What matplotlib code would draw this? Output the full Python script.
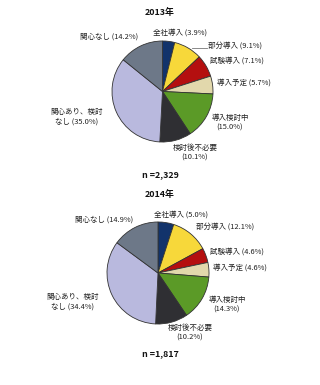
import matplotlib
matplotlib.use("Agg")
import matplotlib.pyplot as plt

plt.rcParams['font.family'] = ['Noto Sans CJK JP', 'DejaVu Sans']

categories = ["全社導入", "部分導入", "試験導入", "導入予定", "導入検討中",
              "検討後不必要", "関心あり、検討なし", "関心なし"]
values_2013 = [3.9, 9.1, 7.1, 5.7, 15.0, 10.1, 35.0, 14.2]
values_2014 = [5.0, 12.1, 4.6, 4.6, 14.3, 10.2, 34.4, 14.9]
colors = ["#12336b", "#f7d83a", "#b40f0f", "#e2d8ac", "#5b9a27",
          "#2f2f33", "#b9b9de", "#6d7888"]
titles = ["2013年", "2014年"]
n_labels = ["n =2,329", "n =1,817"]

W, H = 320, 385
fig = plt.figure(figsize=(W / 100, H / 100), dpi=100)
fig.patch.set_facecolor("white")

def px(x, y):
    return x / W, 1 - y / H

def label_text(cat, v, twoline_mode):
    s = f"({v:.1f}%)"
    if twoline_mode == "split":
        return f"関心あり、検討\nなし {s}"
    if twoline_mode == "two":
        return f"{cat}\n{s}"
    return f"{cat} {s}"

# pie geometry in pixels: center x, center y, radius
pies = [(162.5, 91.5, 50.5), (158.0, 273.0, 51.0)]
# label positions (pixel) and alignment per chart
label_pos = [
    [(153, 33, "left", "one"), (208, 46, "left", "one"), (210, 61, "left", "one"),
     (217, 83, "left", "one"), (230, 123, "center", "two"), (195, 153, "center", "two"),
     (77, 117, "center", "split"), (80, 37, "left", "one")],
    [(154, 215, "left", "one"), (196, 227, "left", "one"), (210, 252, "left", "one"),
     (213, 268, "left", "one"), (227, 305, "center", "two"), (190, 333, "center", "two"),
     (73, 302, "center", "split"), (75, 220, "left", "one")],
]
title_y = [12, 194]
n_y = [175, 354]

for i, vals in enumerate([values_2013, values_2014]):
    cx, cy, r = pies[i]
    ax = fig.add_axes([(cx - r) / W, (H - cy - r) / H, 2 * r / W, 2 * r / H])
    ax.pie(vals, colors=colors, startangle=90, counterclock=False,
           wedgeprops=dict(edgecolor="#333333", linewidth=0.6))
    ax.set_xlim(-1.0, 1.0)
    ax.set_ylim(-1.0, 1.0)
    ax.set_aspect("equal")
    ax.axis("off")
    for cat, v, (x, y, ha, mode) in zip(categories, vals, label_pos[i]):
        fig.text(*px(x, y), label_text(cat, v, mode), ha=ha, va="center",
                 fontsize=5.4, color="#222222", linespacing=1.25)
    fig.text(*px(160, title_y[i]), titles[i], ha="center", va="center",
             fontsize=6.4, fontweight="bold", color="#111111")
    fig.text(*px(160, n_y[i]), n_labels[i], ha="center", va="center",
             fontsize=6.4, fontweight="bold", color="#111111")

# leader line for 部分導入 (2013)
fig.add_artist(plt.Line2D([192 / W, 207 / W], [1 - 48 / H, 1 - 48 / H],
                          color="#777777", linewidth=0.6))

fig.savefig("out.png", dpi=100, facecolor="white")
